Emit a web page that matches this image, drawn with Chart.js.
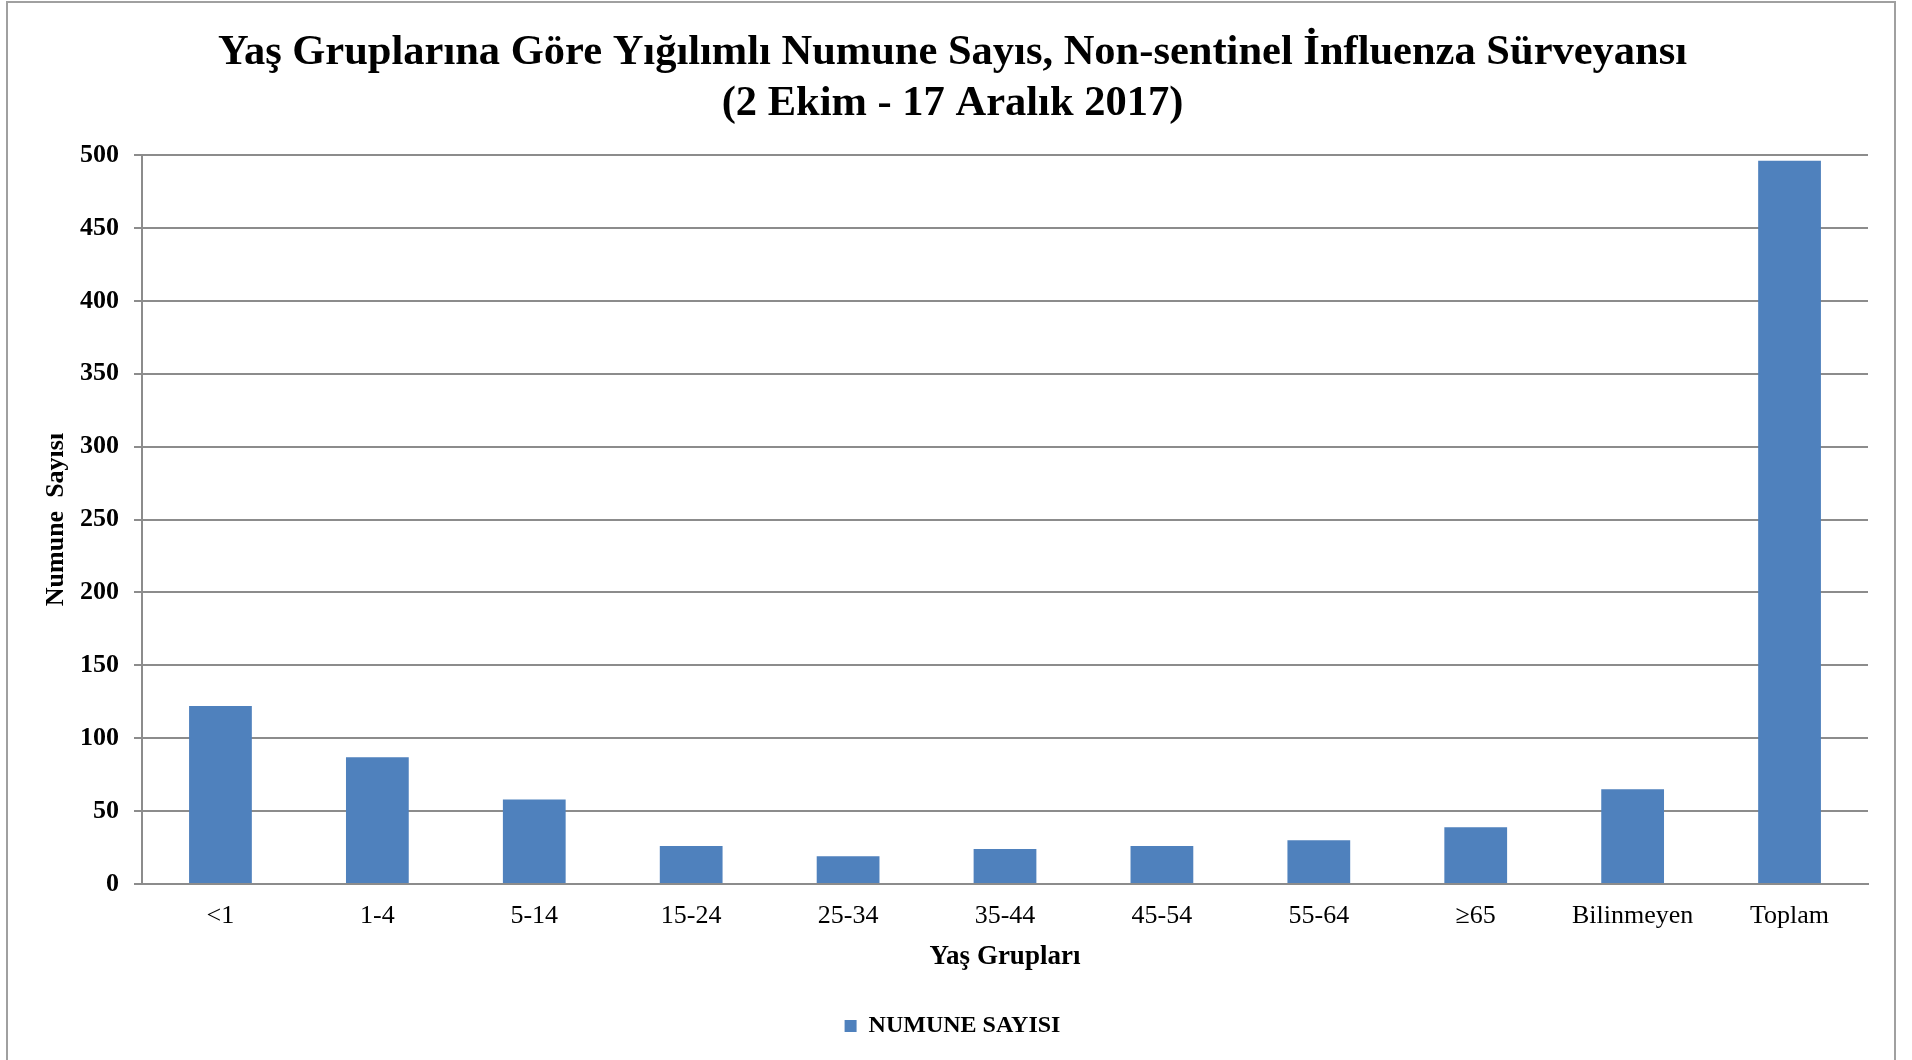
<!DOCTYPE html>
<html>
<head>
<meta charset="utf-8">
<script src="https://cdn.jsdelivr.net/npm/chart.js@4"></script>
<style>
  html, body { margin: 0; padding: 0; background: #fff; }
  #wrap { position: absolute; left: 0; top: 0; width: 1912px; height: 1060px; }
  #frame { position: absolute; left: 6px; top: 1px; width: 1890px; height: 1070px; border: 2px solid #a0a0a0; box-sizing: border-box; pointer-events: none; }
</style>
</head>
<body>
<div id="wrap">
  <canvas id="c" width="1912" height="1060"></canvas>
  <div id="frame"></div>
</div>
<script>
const categories = ['<1', '1-4', '5-14', '15-24', '25-34', '35-44', '45-54', '55-64', '\u226565', 'Bilinmeyen', 'Toplam'];
const numuneSayisi = [122, 87, 58, 26, 19, 24, 26, 30, 39, 65, 496];
const seriesLabel = 'NUMUNE SAYISI';
const titleLines = ['Yaş Gruplarına Göre Yığılımlı Numune Sayıs, Non-sentinel İnfluenza Sürveyansı', '(2 Ekim - 17 Aralık 2017)'];
const xTitle = 'Yaş Grupları';
const yTitle = 'Numune  Sayısı';

const serif = '"Liberation Serif", "Times New Roman", serif';
Chart.defaults.font.family = serif;
Chart.defaults.color = '#000';

new Chart(document.getElementById('c'), {
  type: 'bar',
  data: {
    labels: categories,
    datasets: [{
      label: seriesLabel,
      data: numuneSayisi,
      backgroundColor: '#4F81BD',
      borderWidth: 0,
      barPercentage: 0.4,
      categoryPercentage: 1.0
    }]
  },
  options: {
    responsive: false,
    animation: false,
    devicePixelRatio: 1,
    layout: { padding: { left: 37, right: 44, top: 0, bottom: 12 } },
    plugins: {
      title: {
        display: true,
        text: titleLines,
        font: { size: 42.5, weight: 'bold', family: serif },
        color: '#000',
        lineHeight: 1.1,
        padding: { top: 28, bottom: 25 }
      },
      legend: {
        position: 'bottom',
        labels: {
          boxWidth: 12,
          boxHeight: 12,
          font: { size: 24, weight: 'bold', family: serif },
          color: '#000',
          padding: 10
        }
      },
      tooltip: { enabled: false }
    },
    scales: {
      x: {
        afterFit: (s) => { s.height = 120; },
        grid: { display: false, drawTicks: false },
        border: { display: true, color: '#8c8c8c', width: 2 },
        ticks: { font: { size: 26, family: serif }, color: '#000', padding: 17, maxRotation: 0, autoSkip: false },
        title: {
          display: true,
          text: xTitle,
          font: { size: 27, weight: 'bold', family: serif, lineHeight: 1.0 },
          color: '#000',
          padding: { top: 0, bottom: 33 }
        }
      },
      y: {
        afterFit: (s) => { s.width = 105; },
        min: 0,
        max: 500,
        ticks: { stepSize: 50, font: { size: 26, weight: 'bold', family: serif }, color: '#000', padding: 15 },
        grid: { color: '#8c8c8c', lineWidth: 2, tickLength: 8, drawTicks: true },
        border: { display: true, color: '#8c8c8c', width: 2 },
        title: {
          display: true,
          text: yTitle,
          font: { size: 26, weight: 'bold', family: serif },
          color: '#000',
          padding: { top: 4, bottom: 0 }
        }
      }
    }
  }
});
</script>
</body>
</html>
